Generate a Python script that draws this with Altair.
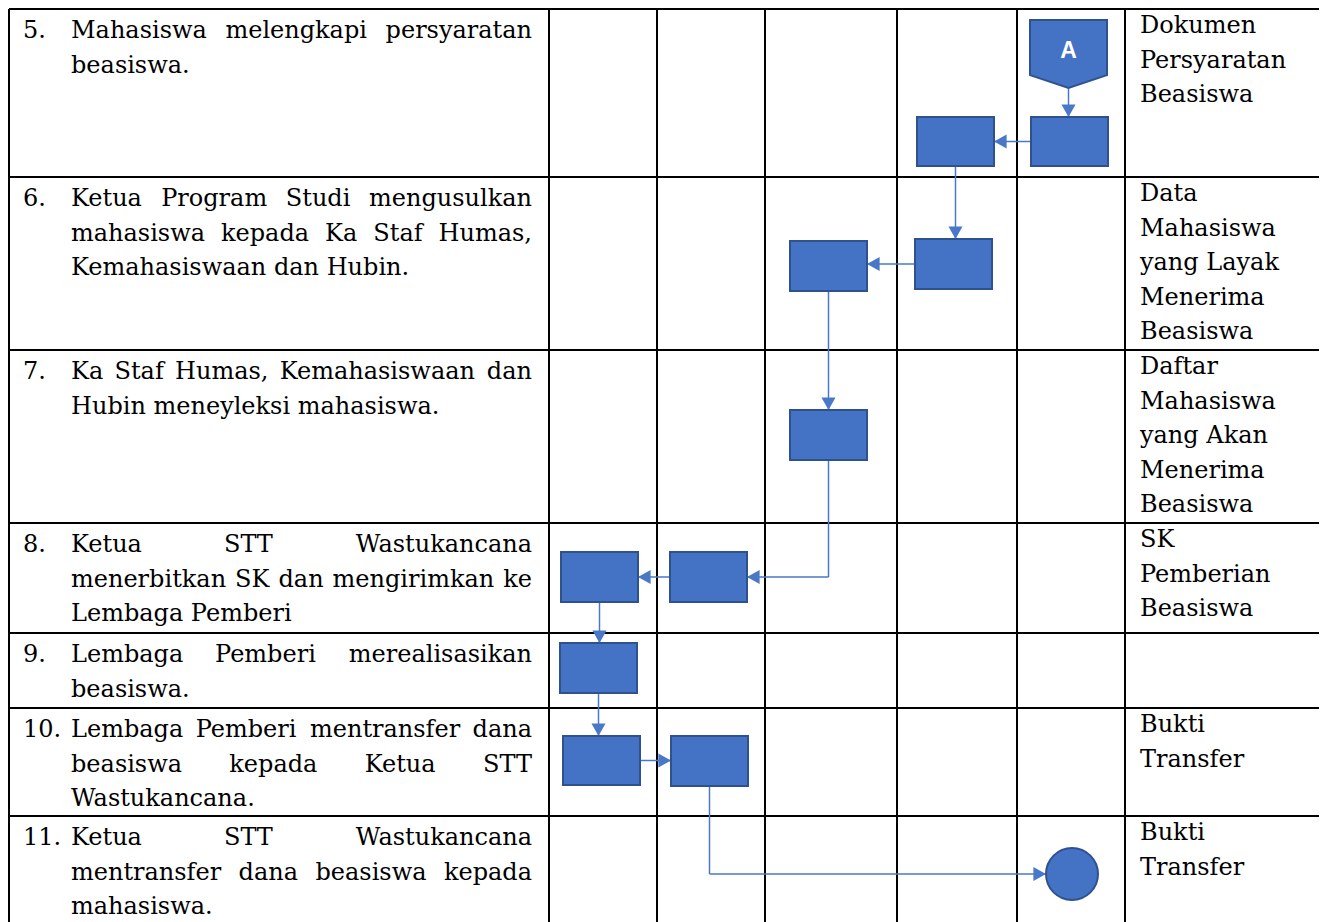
import altair as alt
import pandas as pd

# ---------------- table structure (diagram units = pixels of the original) -------------
COL_EDGES = [7, 547, 655, 763, 895, 1015, 1123, 1325]
ROW_EDGES = [6, 174, 347, 520, 630, 705, 813, 940]

STEP_NUMBERS = ["5.", "6.", "7.", "8.", "9.", "10.", "11."]
STEP_LINES = [
    ["Mahasiswa melengkapi persyaratan", "beasiswa."],
    ["Ketua Program Studi mengusulkan", "mahasiswa kepada Ka Staf Humas,", "Kemahasiswaan dan Hubin."],
    ["Ka Staf Humas, Kemahasiswaan dan", "Hubin meneyleksi mahasiswa."],
    ["Ketua STT Wastukancana", "menerbitkan SK dan mengirimkan ke", "Lembaga Pemberi"],
    ["Lembaga Pemberi merealisasikan", "beasiswa."],
    ["Lembaga Pemberi mentransfer dana", "beasiswa kepada Ketua STT", "Wastukancana."],
    ["Ketua STT Wastukancana", "mentransfer dana beasiswa kepada", "mahasiswa."],
]
OUTPUT_LINES = [
    ["Dokumen", "Persyaratan", "Beasiswa"],
    ["Data", "Mahasiswa", "yang Layak", "Menerima", "Beasiswa"],
    ["Daftar", "Mahasiswa", "yang Akan", "Menerima", "Beasiswa"],
    ["SK", "Pemberian", "Beasiswa"],
    [],
    ["Bukti", "Transfer"],
    ["Bukti", "Transfer"],
]

# ---------------- flowchart nodes ----------------
NODE_IDS = ["A", "n5b", "n5a", "n6b", "n6a", "n7", "n8b", "n8a", "n9", "n10a", "n10b", "end"]
NODE_KIND = ["offpage", "rect", "rect", "rect", "rect", "rect", "rect", "rect", "rect", "rect", "rect", "circle"]
NODE_X0 = [1028, 1029, 915, 913, 788, 788, 668, 559, 558, 561, 669, 1044]
NODE_X1 = [1105, 1106, 992, 990, 865, 865, 745, 636, 635, 638, 746, 1096]
NODE_Y0 = [17, 114, 114, 236, 238, 407, 549, 549, 640, 733, 733, 845]
NODE_Y1 = [85, 163, 163, 286, 288, 457, 599, 599, 690, 782, 783, 897]
CONNECTOR_LABEL = "A"

EDGE_FROM = ["A", "n5b", "n5a", "n6b", "n6a", "n7", "n8b", "n8a", "n9", "n10a", "n10b"]
EDGE_TO = ["n5b", "n5a", "n6b", "n6a", "n7", "n8b", "n8a", "n9", "n10a", "n10b", "end"]
EDGE_ROUTE = ["down", "left", "down", "left", "down", "down-left", "left", "down", "down", "right", "down-right"]

# ---------------- styles ----------------
FONT = "DejaVu Serif"
FS = 24
LINE_H = 34.5
LEFT_FIRST = 22
RIGHT_FIRST = 17
NUM_X = 21
TEXT_L, TEXT_R = 69, 530
OUT_X = 1138
BLUE = "#4472C4"
DARK = "#2F528F"
LINE_BLUE = "#4A78C8"

W_WIDTH = {
    'a': .596, 'b': .640, 'c': .560, 'd': .640, 'e': .592, 'f': .370, 'g': .640, 'h': .644,
    'i': .320, 'j': .310, 'k': .606, 'l': .320, 'm': .948, 'n': .644, 'o': .602, 'p': .640,
    'q': .640, 'r': .478, 's': .513, 't': .402, 'u': .644, 'v': .565, 'w': .856, 'x': .564,
    'y': .565, 'z': .527, 'A': .722, 'B': .735, 'C': .765, 'D': .802, 'E': .730, 'F': .694,
    'G': .799, 'H': .872, 'I': .395, 'J': .401, 'K': .747, 'L': .664, 'M': 1.024, 'N': .875,
    'O': .820, 'P': .673, 'Q': .820, 'R': .753, 'S': .685, 'T': .667, 'U': .843, 'V': .722,
    'W': 1.028, 'X': .712, 'Y': .660, 'Z': .695, '.': .318, ',': .318, ' ': .318,
}


def tw(s):
    return sum(W_WIDTH.get(c, 0.636) for c in s) * FS


# ---------------- build tables ----------------
grid = []
for xe in COL_EDGES:
    grid.append(dict(x=xe, y=ROW_EDGES[0], x2=xe, y2=ROW_EDGES[-1]))
for ye in ROW_EDGES[:-1]:
    grid.append(dict(x=COL_EDGES[0], y=ye, x2=COL_EDGES[-1], y2=ye))
grid_df = pd.DataFrame(grid)

nodes = {}
for i, nid in enumerate(NODE_IDS):
    nodes[nid] = dict(kind=NODE_KIND[i], x0=NODE_X0[i], x1=NODE_X1[i], y0=NODE_Y0[i], y1=NODE_Y1[i],
                      cx=(NODE_X0[i] + NODE_X1[i]) / 2, cy=(NODE_Y0[i] + NODE_Y1[i]) / 2)

rect_df = pd.DataFrame([dict(x=n["x0"], x2=n["x1"], y=n["y0"], y2=n["y1"])
                        for n in nodes.values() if n["kind"] == "rect"])

ARROW_R = "M0,0L-1.8,-1L-1.8,1Z"
ARROW_L = "M0,0L1.8,-1L1.8,1Z"
ARROW_D = "M0,0L-1,-1.8L1,-1.8Z"

segs, heads = [], []
for f, t, r in zip(EDGE_FROM, EDGE_TO, EDGE_ROUTE):
    a, b = nodes[f], nodes[t]
    if r == "down":
        x = a["cx"]
        segs.append(dict(x=x, y=a["y1"], x2=x, y2=b["y0"]))
        heads.append(dict(x=x, y=b["y0"], shape=ARROW_D))
    elif r == "left":
        y = a["cy"]
        segs.append(dict(x=a["x0"], y=y, x2=b["x1"], y2=y))
        heads.append(dict(x=b["x1"], y=y, shape=ARROW_L))
    elif r == "right":
        y = a["cy"]
        segs.append(dict(x=a["x1"], y=y, x2=b["x0"], y2=y))
        heads.append(dict(x=b["x0"], y=y, shape=ARROW_R))
    elif r == "down-left":
        x, y = a["cx"], b["cy"]
        segs.append(dict(x=x, y=a["y1"], x2=x, y2=y))
        segs.append(dict(x=x, y=y, x2=b["x1"], y2=y))
        heads.append(dict(x=b["x1"], y=y, shape=ARROW_L))
    elif r == "down-right":
        x, y = a["cx"], b["cy"]
        segs.append(dict(x=x, y=a["y1"], x2=x, y2=y))
        segs.append(dict(x=x, y=y, x2=b["x0"], y2=y))
        heads.append(dict(x=b["x0"], y=y, shape=ARROW_R))
seg_df = pd.DataFrame(segs)
head_df = pd.DataFrame(heads)

# off-page connector (pentagon) as a custom symbol
op = nodes["A"]
pw = op["x1"] - op["x0"]
ph = op["y1"] - op["y0"]
half = ph / pw
side = -half + 2 * 0.81 * half
PENT = f"M-1,{-half:.3f}L1,{-half:.3f}L1,{side:.3f}L0,{half:.3f}L-1,{side:.3f}Z"
pent_df = pd.DataFrame([dict(x=op["cx"], y=op["cy"])])
pent_label_df = pd.DataFrame([dict(x=op["cx"], y=op["y0"] + 31, t=CONNECTOR_LABEL)])

end = nodes["end"]
circ_df = pd.DataFrame([dict(x=end["cx"], y=end["cy"])])

# text
left_words, right_words, nums, outs = [], [], [], []
for k, lines in enumerate(STEP_LINES):
    top = ROW_EDGES[k]
    nums.append(dict(x=NUM_X, y=top + LEFT_FIRST, t=STEP_NUMBERS[k]))
    for i, line in enumerate(lines):
        y = top + LEFT_FIRST + LINE_H * i
        words = line.split(" ")
        if i == len(lines) - 1 or len(words) == 1:
            left_words.append(dict(x=TEXT_L, y=y, t=line))
            continue
        widths = [tw(w) for w in words]
        gap = (TEXT_R - TEXT_L - sum(widths)) / (len(words) - 1)
        x = TEXT_L
        for j, (w, wd) in enumerate(zip(words, widths)):
            if j == len(words) - 1:
                right_words.append(dict(x=TEXT_R, y=y, t=w))
            else:
                left_words.append(dict(x=x, y=y, t=w))
            x += wd + gap
for k, lines in enumerate(OUTPUT_LINES):
    for i, line in enumerate(lines):
        outs.append(dict(x=OUT_X, y=ROW_EDGES[k] + RIGHT_FIRST + LINE_H * i, t=line))

left_df = pd.DataFrame(left_words + nums + outs)
right_df = pd.DataFrame(right_words)

# ---------------- chart ----------------
W, H = 1311, 914
XS = alt.Scale(domain=[6, 6 + W], zero=False, nice=False)
YS = alt.Scale(domain=[5, 5 + H], zero=False, nice=False, reverse=True)


def X(f="x"):
    return alt.X(f"{f}:Q", scale=XS, axis=None)


def Y(f="y"):
    return alt.Y(f"{f}:Q", scale=YS, axis=None)


grid_layer = alt.Chart(grid_df).mark_rule(color="black", strokeWidth=2).encode(
    x=X(), y=Y(), x2="x2:Q", y2="y2:Q")

seg_layer = alt.Chart(seg_df).mark_rule(color=LINE_BLUE, strokeWidth=1.5).encode(
    x=X(), y=Y(), x2="x2:Q", y2="y2:Q")

head_layer = alt.Chart(head_df).mark_point(filled=True, opacity=1, color=LINE_BLUE, size=196).encode(
    x=X(), y=Y(), shape=alt.Shape("shape:N", scale=None, legend=None))

rect_layer = alt.Chart(rect_df).mark_rect(fill=BLUE, stroke=DARK, strokeWidth=2).encode(
    x=X(), y=Y(), x2="x2:Q", y2="y2:Q")

pent_layer = alt.Chart(pent_df).mark_point(
    shape=PENT, size=pw * pw, filled=True, opacity=1, fill=BLUE, stroke=DARK, strokeWidth=2
).encode(x=X(), y=Y())

pent_text = alt.Chart(pent_label_df).mark_text(
    font="Liberation Sans", fontWeight="bold", fontSize=23, color="white", baseline="middle", align="center"
).encode(x=X(), y=Y(), text="t:N")

circ_layer = alt.Chart(circ_df).mark_point(
    shape="circle", size=(end["x1"] - end["x0"]) ** 2, filled=True, opacity=1,
    fill=BLUE, stroke=DARK, strokeWidth=2
).encode(x=X(), y=Y())

text_left = alt.Chart(left_df).mark_text(
    font=FONT, fontSize=FS, color="black", align="left", baseline="middle"
).encode(x=X(), y=Y(), text="t:N")

text_right = alt.Chart(right_df).mark_text(
    font=FONT, fontSize=FS, color="black", align="right", baseline="middle"
).encode(x=X(), y=Y(), text="t:N")

chart = alt.layer(
    grid_layer, seg_layer, head_layer, rect_layer, pent_layer, pent_text, circ_layer, text_left, text_right
).properties(
    width=W, height=H, padding=0, background="white",
    autosize=alt.AutoSizeParams(type="none")
).configure_view(strokeWidth=0)

chart.save("out.html", embed_options={"renderer": "svg", "actions": False})
